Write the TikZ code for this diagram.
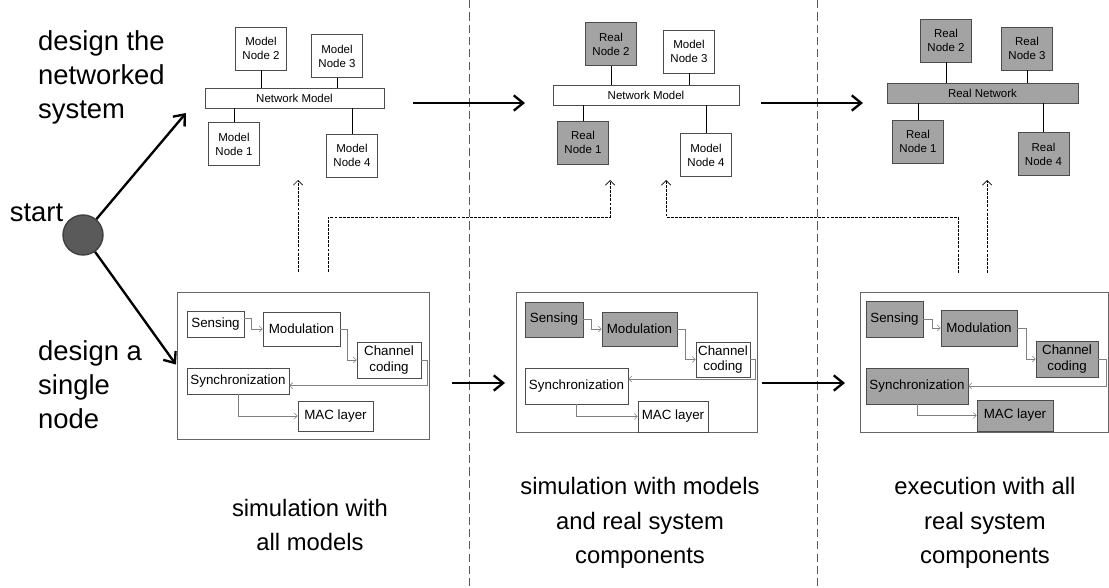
\documentclass[tikz,border=0pt]{standalone}
\usepackage{fontspec}
\setmainfont{Liberation Sans}
\usetikzlibrary{arrows.meta}
\definecolor{realgray}{RGB}{163,163,163}
\definecolor{startgray}{RGB}{90,90,90}

\begin{document}
\begin{tikzpicture}[x=0.03cm,y=-0.03cm,
    netnode/.style={draw=black!70,line width=0.5pt,minimum width=1.53cm,minimum height=1.3cm,
      align=center,inner sep=1pt,font=\fontsize{9.8}{12}\selectfont},
    real/.style={fill=realgray},
    netbar/.style={draw=black!70,line width=0.5pt,minimum height=0.6cm,inner sep=0pt,
      font=\fontsize{9.8}{12}\selectfont},
    part/.style={draw=black!70,line width=0.5pt,align=center,inner sep=1pt,
      font=\fontsize{11.4}{13}\selectfont},
    sysbox/.style={draw=black!60,line width=0.6pt,inner sep=0pt},
    link/.style={draw=black!50,line width=0.5pt,-{Straight Barb[length=2.5pt,width=5pt]}},
    wire/.style={line width=0.6pt},
    bigarrow/.style={line width=2pt,-{Straight Barb[length=8pt,width=13pt]}},
    hint/.style={line width=0.6pt,dash pattern=on 2.5pt off 1pt,-{Straight Barb[length=4pt,width=8pt]}},
    divider/.style={draw=black!65,line width=0.8pt,dash pattern=on 7pt off 3.5pt},
    phasetext/.style={align=center,inner sep=0pt,font=\fontsize{20.3}{29.5}\selectfont},
    goaltext/.style={align=left,anchor=west,inner sep=0pt,font=\fontsize{23.4}{29}\selectfont}]
    \useasboundingbox (0,0) rectangle (1109,588);

    \draw[divider] (469,0) -- (469,588);
    \draw[divider] (817,0) -- (817,588);

    % all models
    \node[netnode] at (261,48.5) (a2) {Model\\Node 2};
    \node[netnode] at (337,56) (a3) {Model\\Node 3};
    \node[netbar,minimum width=5.37cm] at (294.5,98) (an) {Network Model};
    \node[netnode] at (234,144) (a1) {Model\\Node 1};
    \node[netnode] at (352,155.5) (a4) {Model\\Node 4};
    \draw[wire] (a2.south) -- (a2.south |- an.north);
    \draw[wire] (a3.south) -- (a3.south |- an.north);
    \draw[wire] (a1.north) -- (a1.north |- an.south);
    \draw[wire] (a4.north) -- (a4.north |- an.south);

    % models and real parts
    \node[netnode,real] at (611,44) (b2) {Real\\Node 2};
    \node[netnode] at (689,51.5) (b3) {Model\\Node 3};
    \node[netbar,minimum width=5.58cm] at (646,95) (bn) {Network Model};
    \node[netnode,real] at (583,142.5) (b1) {Real\\Node 1};
    \node[netnode] at (706,155) (b4) {Model\\Node 4};
    \draw[wire] (b2.south) -- (b2.south |- bn.north);
    \draw[wire] (b3.south) -- (b3.south |- bn.north);
    \draw[wire] (b1.north) -- (b1.north |- bn.south);
    \draw[wire] (b4.north) -- (b4.north |- bn.south);

    % all real
    \node[netnode,real] at (946,40.5) (c2) {Real\\Node 2};
    \node[netnode,real] at (1027,48.5) (c3) {Real\\Node 3};
    \node[netbar,real,minimum width=5.73cm] at (982.5,93) (cn) {Real Network};
    \node[netnode,real] at (918,141.5) (c1) {Real\\Node 1};
    \node[netnode,real] at (1043.5,154) (c4) {Real\\Node 4};
    \draw[wire] (c2.south) -- (c2.south |- cn.north);
    \draw[wire] (c3.south) -- (c3.south |- cn.north);
    \draw[wire] (c1.north) -- (c1.north |- cn.south);
    \draw[wire] (c4.north) -- (c4.north |- cn.south);

    % single node, simulated
    \node[sysbox,minimum width=7.56cm,minimum height=4.41cm] at (303,365.5) (sys1) {};
    \node[part,minimum width=1.71cm,minimum height=0.78cm] at (215.5,324) (s1) {Sensing};
    \node[part,minimum width=2.31cm,minimum height=1.02cm] at (301.5,329) (mo1) {Modulation};
    \node[part,minimum width=1.92cm,minimum height=1.08cm] at (389,360) (ch1) {Channel\\coding};
    \node[part,minimum width=3.06cm,minimum height=0.78cm] at (238,381) (sy1) {Synchronization};
    \node[part,minimum width=2.25cm,minimum height=0.9cm] at (335.5,416) (ma1) {MAC layer};
    \draw[link] ([yshift=5pt]s1.east) -- ++(7,0) |- (mo1.west);
    \draw[link] (mo1.east) -- ++(7,0) |- (ch1.west);
    \draw[link] (ch1.east) -- ++(6,0) |- ([yshift=-4pt]sy1.east);
    \draw[link] (sy1.south) |- (ma1.west);

    % single node, partly real
    \node[sysbox,minimum width=7.23cm,minimum height=4.2cm] at (636.5,362) (sys2) {};
    \node[part,real,minimum width=1.74cm,minimum height=1.05cm] at (554,319.5) (s2) {Sensing};
    \node[part,real,minimum width=2.25cm,minimum height=1.02cm] at (639.5,329) (mo2) {Modulation};
    \node[part,minimum width=1.62cm,minimum height=1.05cm] at (723,359.5) (ch2) {Channel\\coding};
    \node[part,minimum width=3.09cm,minimum height=1.08cm] at (576.5,386) (sy2) {Synchronization};
    \node[part,minimum width=2.1cm,minimum height=0.93cm] at (673,416.5) (ma2) {MAC layer};
    \draw[link] (s2.east) -- ++(8,0) |- (mo2.west);
    \draw[link] (mo2.east) -- ++(8,0) |- (ch2.west);
    \draw[link] (ch2.east) -- ++(5,0) |- ([yshift=6pt]sy2.east);
    \draw[link] (sy2.south) |- (ma2.west);

    % single node, real
    \node[sysbox,minimum width=7.44cm,minimum height=4.2cm] at (984,362) (sys3) {};
    \node[part,real,minimum width=1.71cm,minimum height=1.08cm] at (894.5,319) (s3) {Sensing};
    \node[part,real,minimum width=2.28cm,minimum height=1.08cm] at (979,328) (mo3) {Modulation};
    \node[part,real,minimum width=1.86cm,minimum height=1.08cm] at (1067,359) (ch3) {Channel\\coding};
    \node[part,real,minimum width=3.06cm,minimum height=1.08cm] at (917,386) (sy3) {Synchronization};
    \node[part,real,minimum width=2.28cm,minimum height=0.93cm] at (1015,415.5) (ma3) {MAC layer};
    \draw[link] (s3.east) -- ++(9,0) |- (mo3.west);
    \draw[link] (mo3.east) -- ++(9,0) |- (ch3.west);
    \draw[link] (ch3.east) -- ++(8,0) |- (sy3.east);
    \draw[link] (sy3.south) |- (ma3.west);

    % start
    \node[circle,fill=startgray,draw=black!75,line width=1.2pt,minimum size=1.2cm] at (83,235) (start) {};
    \node[goaltext,anchor=center] at (36.5,213) (startlabel) {start};
    \coordinate (up) at (186,113);
    \draw[bigarrow] (start) -- (up);
    \draw[bigarrow,shorten >=1pt] (start) -- (sys1.west);

    % steps
    \coordinate (h1) at (413,103);
    \coordinate (h2) at (525,103);
    \coordinate (h3) at (761,103);
    \coordinate (h4) at (863,103);
    \coordinate (h5) at (452,383);
    \coordinate (h6) at (505,383);
    \coordinate (h7) at (762,383);
    \coordinate (h8) at (845,383);
    \draw[bigarrow] (h1) -- (h2);
    \draw[bigarrow] (h3) -- (h4);
    \draw[bigarrow] (h5) -- (h6);
    \draw[bigarrow] (h7) -- (h8);

    % node into network
    \coordinate (f1s) at (298,272);
    \coordinate (f1e) at (298,180);
    \coordinate (f2s) at (328,272);
    \coordinate (f2e) at (610,180);
    \coordinate (f3s) at (958,273);
    \coordinate (f3e) at (666,180);
    \coordinate (f4s) at (987,273);
    \coordinate (f4e) at (987,180);
    \draw[hint] (f1s) -- (f1e);
    \draw[hint] (f2s) -- ++(0,-55) -| (f2e);
    \draw[hint] (f3s) -- ++(0,-56) -| (f3e);
    \draw[hint] (f4s) -- (f4e);

    \node[goaltext] at (38,77) (goalnet) {design the\\networked\\system};
    \node[goaltext] at (38,385) (goalnode) {design a\\single\\node};
    \node[phasetext] at (310,525) (phase1) {simulation with\\all models};
    \node[phasetext] at (640,523) (phase2) {simulation with models\\and real system\\components};
    \node[phasetext] at (985,523) (phase3) {execution with all\\real system\\components};
\end{tikzpicture}
\end{document}
